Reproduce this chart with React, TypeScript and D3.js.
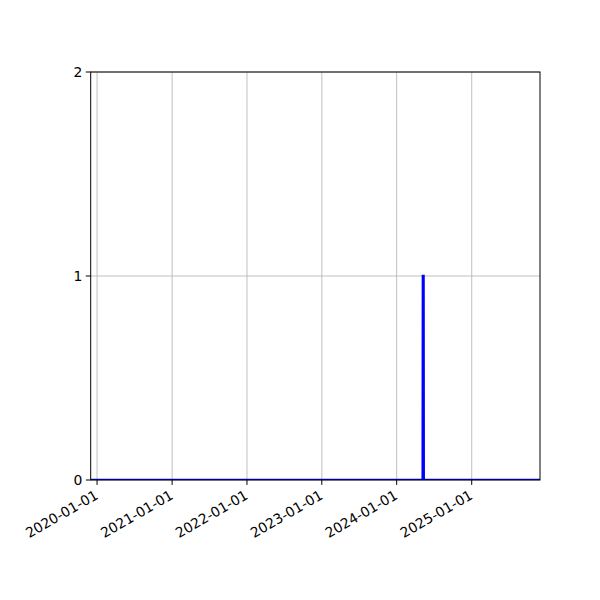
import React from "react";
import * as d3 from "d3";

const dates: string[] = ["2019-12-01", "2024-05-07", "2024-05-08", "2024-05-11", "2024-05-12", "2025-11-30"];
const values: number[] = [0, 0, 1, 1, 0, 0];
const xTickLabels: string[] = ["2020-01-01", "2021-01-01", "2022-01-01", "2023-01-01", "2024-01-01", "2025-01-01"];
const yTicks: number[] = [0, 1, 2];

const W = 600, H = 600;
const L = 90.7, R = 540, T = 72, B = 480;

export default function App() {
  const parse = d3.utcParse("%Y-%m-%d");
  const pts = dates.map((d, i) => ({ d: parse(d) as Date, v: values[i] }));
  const x = d3.scaleUtc().domain([parse("2019-12-01") as Date, parse("2025-11-30") as Date]).range([L, R]);
  const y = d3.scaleLinear().domain([0, 2]).range([B, T]);
  const line = d3.line<{ d: Date; v: number }>().x(p => x(p.d)).y(p => y(p.v));
  const font = "DejaVu Sans";
  const fs = 13.9;
  return (
    <svg width={W} height={H} style={{ position: "absolute", left: 0, top: 0, background: "#fff" }}>
      <rect x={0} y={0} width={W} height={H} fill="#fff" />
      <defs>
        <clipPath id="clip"><rect x={L} y={T} width={R - L} height={B - T} /></clipPath>
      </defs>
      {xTickLabels.map(t => {
        const px = x(parse(t) as Date);
        return <line key={"gx" + t} x1={px} x2={px} y1={T} y2={B} stroke="#b0b0b0" strokeWidth={0.8} />;
      })}
      {yTicks.map(t => (
        <line key={"gy" + t} x1={L} x2={R} y1={y(t)} y2={y(t)} stroke="#b0b0b0" strokeWidth={0.8} />
      ))}
      <path d={line(pts) || ""} fill="none" stroke="#0000ff" strokeWidth={2.5} clipPath="url(#clip)" />
      <rect x={L} y={T} width={R - L} height={B - T} fill="none" stroke="#000" strokeWidth={1} />
      {xTickLabels.map(t => {
        const px = x(parse(t) as Date);
        return (
          <g key={"tx" + t}>
            <line x1={px} x2={px} y1={B} y2={B + 4.9} stroke="#000" strokeWidth={1} />
            <text transform={`translate(${px + 2},${B + 18}) rotate(-30)`} textAnchor="end" fontFamily={font} fontSize={fs} fill="#000">{t}</text>
          </g>
        );
      })}
      {yTicks.map(t => (
        <g key={"ty" + t}>
          <line x1={L} x2={L - 4.9} y1={y(t)} y2={y(t)} stroke="#000" strokeWidth={1} />
          <text x={L - 8.4} y={y(t)} dy="0.36em" textAnchor="end" fontFamily={font} fontSize={fs} fill="#000">{t}</text>
        </g>
      ))}
    </svg>
  );
}
